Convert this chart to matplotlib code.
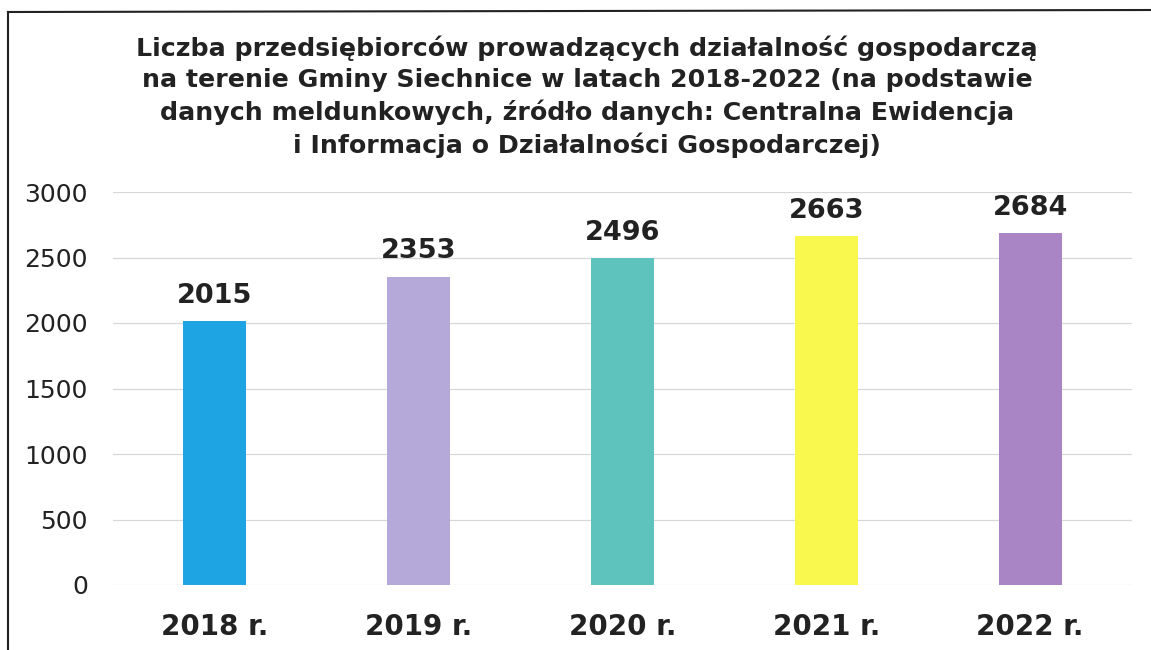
import matplotlib
matplotlib.use("Agg")
import matplotlib.pyplot as plt
from matplotlib.lines import Line2D

categories = ["2018 r.", "2019 r.", "2020 r.", "2021 r.", "2022 r."]
values = [2015, 2353, 2496, 2663, 2684]
bar_colors = ["#1ea4e3", "#b4a9d9", "#5ec3bd", "#f8f84e", "#a985c5"]
yticks = [0, 500, 1000, 1500, 2000, 2500, 3000]
title = ("Liczba przedsiębiorców prowadzących działalność gospodarczą\n"
         "na terenie Gminy Siechnice w latach 2018-2022 (na podstawie\n"
         "danych meldunkowych, źródło danych: Centralna Ewidencja\n"
         "i Informacja o Działalności Gospodarczej)")

plt.rcParams['font.family'] = ['DejaVu Sans']

fig = plt.figure(figsize=(11.51, 6.5), dpi=100)
ax = fig.add_axes([113/1151, 1 - 585/650, (1132 - 113)/1151, (585 - 192)/650])

x = list(range(len(categories)))
ax.bar(x, values, width=0.31, color=bar_colors, zorder=3)
ax.set_xlim(-0.5, len(categories) - 0.5)
ax.set_ylim(0, 3000)
ax.set_yticks(yticks)
ax.set_yticklabels([str(t) for t in yticks], fontsize=18, color="#222222")
ax.set_xticks(x)
ax.set_xticklabels(categories, fontsize=20, fontweight="bold", color="#222222")
ax.tick_params(axis="y", length=0, pad=18)
ax.tick_params(axis="x", length=0, pad=20)
ax.grid(axis="y", color="#d8d8d8", linewidth=0.9, zorder=0)
for s in ax.spines.values():
    s.set_visible(False)

for xi, v in zip(x, values):
    ax.annotate(str(v), (xi, v), xytext=(0, 9), textcoords="offset points",
                ha="center", va="bottom", fontsize=19.5, fontweight="bold",
                color="#222222")

fig.text(587/1151, 1 - 97/650, title, ha="center", va="center",
         fontsize=18.2, fontweight="bold", color="#222222", linespacing=1.37)

# frame of the scanned chart
fig.add_artist(Line2D([8/1151, 8/1151], [0, 1 - 12/650], transform=fig.transFigure,
                      color="#222222", linewidth=1.5))
fig.add_artist(Line2D([8/1151, 1], [1 - 12/650, 1 - 10/650], transform=fig.transFigure,
                      color="#222222", linewidth=1.5))

fig.savefig("out.png", dpi=100)
